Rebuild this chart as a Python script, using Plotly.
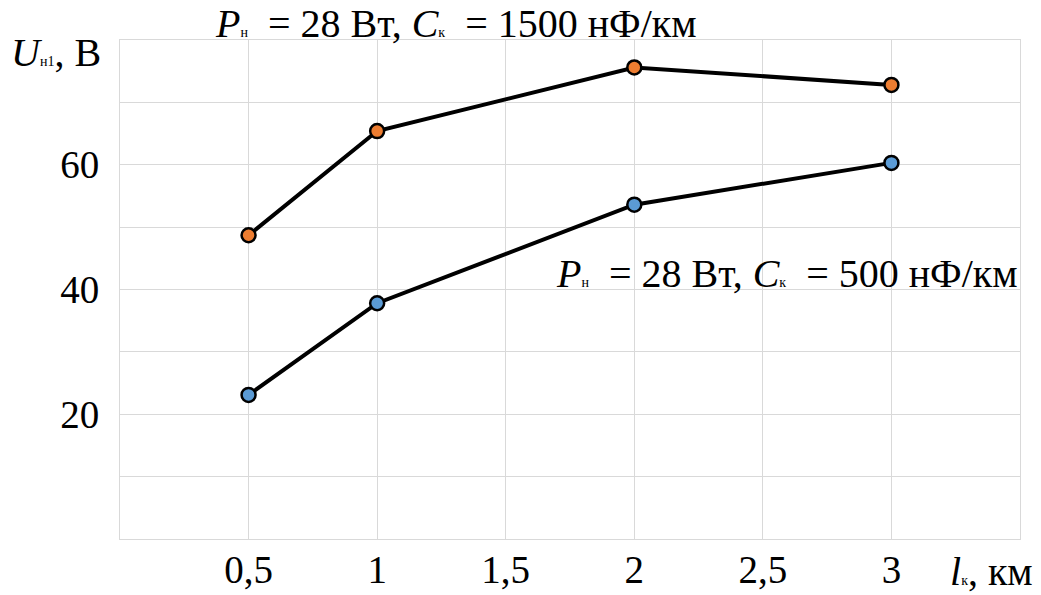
import plotly.graph_objects as go

# Cable length, km
length_km = [0.5, 1, 2, 3]
# Load voltage U_н1 (V) for two cable capacitances
u_c1500 = [48.7, 65.4, 75.6, 72.8]
u_c500 = [23.1, 37.8, 53.6, 60.3]

x_tickvals = [0.5, 1, 1.5, 2, 2.5, 3]
x_ticktext = ["0,5", "1", "1,5", "2", "2,5", "3"]
y_tickvals = [0, 10, 20, 30, 40, 50, 60, 70, 80]
y_ticktext = ["", "", "20", "", "40", "", "60", "", ""]

FONT = "'Liberation Serif', 'DejaVu Serif', serif"
FS = 39
FS_NOTE = 40
GRID = "#d9d9d9"
NB = "\u00a0"

fig = go.Figure()
for vals, color in [(u_c1500, "#ED7D31"), (u_c500, "#5B9BD5")]:
    fig.add_trace(go.Scatter(
        x=length_km, y=vals, mode="lines+markers",
        line=dict(color="black", width=4),
        marker=dict(size=14, color=color, line=dict(color="black", width=2.5)),
        showlegend=False, cliponaxis=False,
    ))

W, H = 1041, 595
ML, MR, MT, MB = 120, 21, 40, 56
PW, PH = W - ML - MR, H - MT - MB


def px(xp):
    return (xp - ML) / PW


def py(yp):
    return (H - MB - yp) / PH


def small(s):
    # index letters sit on the baseline in a small size
    return f"<span style='font-size:14px'>{s}</span>"


def caption(cap):
    return (f"<i>P</i>{small('н')}{NB} = 28 Вт, "
            f"<i>C</i>{small('к')}{NB} = {cap} нФ/км")


annotations = [
    dict(text=caption(1500), x=px(213), y=py(23), xanchor="left", yanchor="middle"),
    dict(text=caption(500), x=px(554), y=py(273), xanchor="left", yanchor="middle"),
    dict(text=f"<i>U</i>{small('н1')}, В",
         x=px(9), y=py(52), xanchor="left", yanchor="middle"),
    dict(text=f"<i>l</i>{small('к')}, км",
         x=px(948), y=py(571), xanchor="left", yanchor="middle"),
]
for a in annotations:
    a.update(xref="paper", yref="paper", showarrow=False,
             font=dict(family=FONT, size=FS_NOTE, color="black"))

fig.update_layout(
    width=W, height=H,
    margin=dict(l=ML, r=MR, t=MT, b=MB, autoexpand=False),
    paper_bgcolor="white", plot_bgcolor="white",
    font=dict(family=FONT, size=FS, color="black"),
    annotations=annotations,
    xaxis=dict(range=[0, 3.5], tickvals=x_tickvals, ticktext=x_ticktext,
               showgrid=True, gridcolor=GRID, gridwidth=1,
               showline=True, linecolor=GRID, linewidth=1, mirror=True,
               zeroline=False, ticks="", ticklabelstandoff=-4, automargin=False),
    yaxis=dict(range=[0, 80], tickvals=y_tickvals, ticktext=y_ticktext,
               showgrid=True, gridcolor=GRID, gridwidth=1,
               showline=True, linecolor=GRID, linewidth=1, mirror=True,
               zeroline=False, ticks="", ticklabelstandoff=12, automargin=False),
)

fig.write_html("out.html")
